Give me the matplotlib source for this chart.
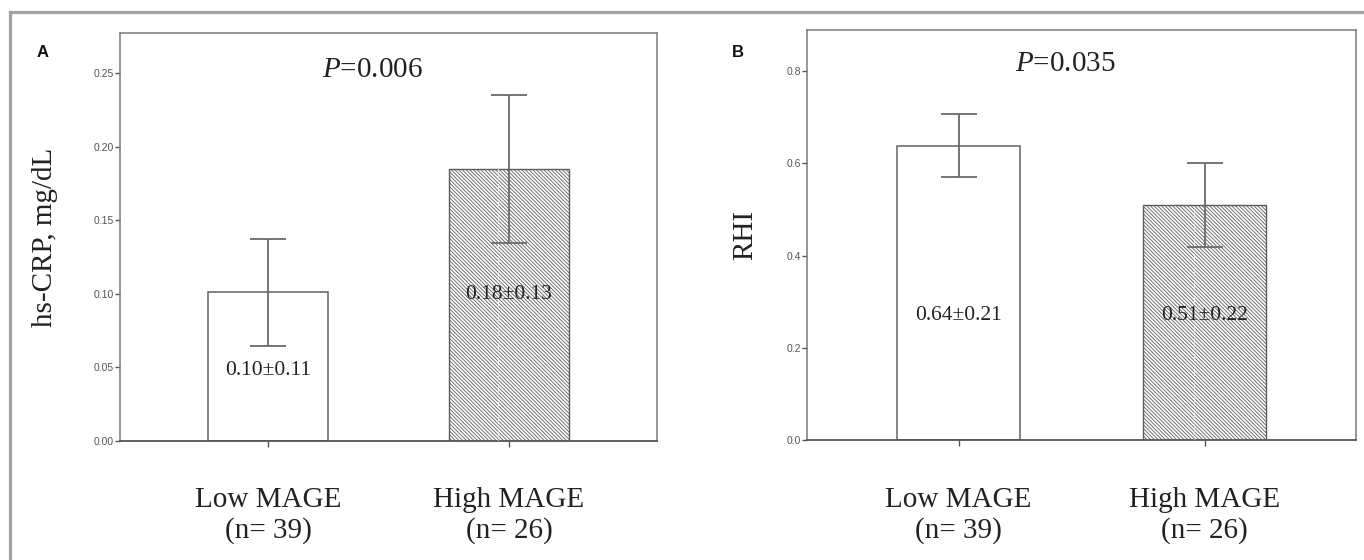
import numpy as np
import matplotlib
matplotlib.use("Agg")
import matplotlib.pyplot as plt
from matplotlib.lines import Line2D

plt.rcParams['hatch.linewidth'] = 0.6
plt.rcParams['mathtext.fontset'] = 'custom'
plt.rcParams['mathtext.it'] = 'Liberation Serif:italic'
plt.rcParams['mathtext.rm'] = 'Liberation Serif'

# data
groups = ["Low MAGE\n(n= 39)", "High MAGE\n(n= 26)"]
crp_mean = [0.1009, 0.1849]
crp_err = [0.0365, 0.0505]
crp_text = ["0.10\u00b10.11", "0.18\u00b10.13"]
rhi_mean = [0.638, 0.510]
rhi_err = [0.068, 0.091]
rhi_text = ["0.64\u00b10.21", "0.51\u00b10.22"]
p_values = ["0.006", "0.035"]

serif = "Liberation Serif"
sans = "Liberation Sans"
edge = "#6e6e6e"

fig = plt.figure(figsize=(13.64, 5.6), dpi=100)
ax_a = fig.add_axes([0.088, 0.213, 0.3937, 0.728])
ax_b = fig.add_axes([0.5919, 0.2138, 0.4023, 0.7326])

# outer frame of the figure
fig.add_artist(Line2D([10/1364, 1], [1 - 12/560, 1 - 12/560], color="#a3a3a3", lw=2.3))
fig.add_artist(Line2D([10/1364, 10/1364], [0, 1 - 12/560], color="#a3a3a3", lw=2.3))


def draw_panel(ax, means, errs, texts, text_y, ylim, yticks, fmt, ylabel, ylab_x, pval, p_y, letter, letter_x):
    x = np.arange(len(means))
    ax.bar(x[0], means[0], width=0.5, color="white", edgecolor=edge, linewidth=1.2, zorder=2)
    ax.bar(x[1], means[1], width=0.5, color="white", edgecolor="#5c5c5c", hatch="\\" * 9,
           linewidth=1.0, zorder=2)
    # faint white seam seen inside the hatched bar
    ax.vlines(x[1] - 0.045, 0, means[1], colors="white", linestyles=":", lw=0.8, zorder=3)
    ax.errorbar(x, means, yerr=errs, fmt="none", ecolor="#6a6a6a", elinewidth=1.3,
                capsize=13, capthick=1.3, zorder=4)
    for xi, t, ty in zip(x, texts, text_y):
        ax.text(xi, ty, t, transform=ax.get_xaxis_transform(), ha="center", va="baseline",
                fontsize=15.5, family=serif, color="#222222", zorder=5)

    ax.set_xlim(-0.614, 1.614)
    ax.set_ylim(*ylim)
    ax.set_yticks(yticks)
    ax.set_yticklabels([fmt % v for v in yticks], fontsize=7.5, family=sans, color="#555555")
    ax.tick_params(axis="y", length=3.5, width=1.0, color="#555555", pad=1)
    ax.set_xticks(x)
    ax.set_xticklabels(groups, fontsize=21, family=serif, color="#222222", linespacing=1.2)
    ax.tick_params(axis="x", length=4.5, width=1.0, color="#555555", pad=29)
    for side in ["top", "right", "left"]:
        ax.spines[side].set_color("#7a7a7a")
        ax.spines[side].set_linewidth(1.1)
    ax.spines["bottom"].set_color("#555555")
    ax.spines["bottom"].set_linewidth(1.3)

    ax.text(ylab_x, 0.5, ylabel, transform=ax.transAxes, rotation=90, ha="center", va="center",
            fontsize=21, family=serif, color="#222222")
    ax.text(0.47, p_y, "$\\it{P}$=" + pval, transform=ax.transAxes, ha="center", va="baseline",
            fontsize=21, family=serif, color="#222222")
    fig.text(letter_x, 1 - 57/560, letter, fontsize=12, fontweight="bold", family=sans,
             ha="left", va="baseline", color="#111111")


draw_panel(ax_a, crp_mean, crp_err, crp_text, [0.161, 0.347], (0, 0.2775),
           [0.0, 0.05, 0.10, 0.15, 0.20, 0.25], "%.2f", "hs-CRP, mg/dL", -0.14,
           p_values[0], 0.891, "A", 37/1364)
draw_panel(ax_b, rhi_mean, rhi_err, rhi_text, [0.293, 0.293], (0, 0.889),
           [0.0, 0.2, 0.4, 0.6, 0.8], "%.1f", "RHI", -0.113,
           p_values[1], 0.901, "B", 732/1364)

fig.savefig("out.png", dpi=100)
